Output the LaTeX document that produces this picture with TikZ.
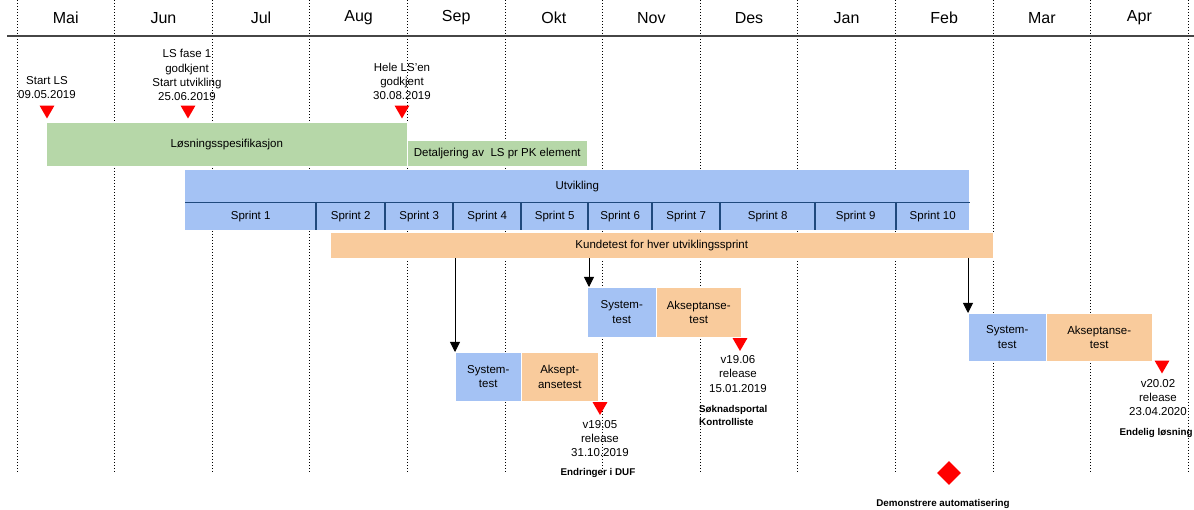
\documentclass[tikz,border=0pt]{standalone}
\usepackage{fontspec}
\setmainfont{Liberation Sans}
\usetikzlibrary{shapes.geometric,arrows.meta}

\definecolor{lsgreen}{RGB}{182,215,168}
\definecolor{devblue}{RGB}{164,194,244}
\definecolor{testorange}{RGB}{249,203,156}
\definecolor{sprintline}{RGB}{31,73,125}
\definecolor{headgray}{RGB}{70,70,70}

\begin{document}
\begin{tikzpicture}[x=1pt,y=-1pt,
  txt/.style={font=\fontsize{11.5}{14.2}\selectfont, align=center, inner sep=0pt},
  monthlbl/.style={font=\fontsize{16}{18}\selectfont, inner sep=0pt},
  notelbl/.style={font=\bfseries\fontsize{9.8}{13}\selectfont, inner sep=0pt},
  bar/.style={fill=#1, draw=white, line width=0.5pt, anchor=north west, inner sep=0pt,
    font=\fontsize{11.5}{14.5}\selectfont, align=center},
  sprintbox/.style={fill=devblue, anchor=north west, inner sep=0pt,
    font=\fontsize{11.5}{14.5}\selectfont, minimum height=28},
  gridline/.style={line width=0.9pt, dash pattern=on 0.9pt off 2.1pt},
  milestone/.style={regular polygon, regular polygon sides=3, shape border rotate=180,
    fill=red, inner sep=0pt, minimum size=17pt},
  flow/.style={-{Triangle[width=10pt,length=10pt]}, line width=0.9pt}]

\useasboundingbox (0,0) rectangle (1194,510);

% month grid
\foreach \i in {0,...,12} {
  \coordinate (gt\i) at (17+97.6*\i,0);
  \coordinate (gb\i) at (17+97.6*\i,472);
  \draw[gridline] (gt\i) -- (gb\i);
}
\foreach \m [count=\i from 0] in {Mai,Jun,Jul,Aug,Sep,Okt,Nov,Des,Jan,Feb,Mar,Apr}
  \node[monthlbl] (m\i) at (65.8+97.6*\i,18) {\m};
\coordinate (hl) at (7,36);
\coordinate (hr) at (1194,36);
\draw[headgray, line width=2pt] (hl) -- (hr);

% specification phase
\node[bar=lsgreen, minimum width=361, minimum height=44] (ls) at (46,122) {Løsningsspesifikasjon};
\node[bar=lsgreen, minimum width=180, minimum height=26] (det) at (407,140) {Detaljering av\ \ LS pr PK element};

% development with sprints
\node[bar=devblue, draw=none, minimum width=784, minimum height=32] (dev) at (185,170) {Utvikling};
\foreach \a/\b/\n in {185/316/1,316/385/2,385/453/3,453/521/4,521/588/5,588/652/6,652/720/7,720/815/8,815/896/9,896/969/10}
  \node[sprintbox, minimum width=\b-\a] (sp\n) at (\a,202) {Sprint \n};
\draw[sprintline, line width=1.3pt] (dev.south west) -- (dev.south east);
\foreach \n in {2,...,10}
  \draw[sprintline, line width=1.3pt] (sp\n.north west) -- (sp\n.south west);

% customer tests
\node[bar=testorange, minimum width=663, minimum height=26] (kt) at (330,232) {Kundetest for hver utviklingssprint};

% test blocks
\node[bar=devblue, minimum width=66, minimum height=49] (s1) at (455,352) {System-\\test};
\node[bar=testorange, minimum width=77, minimum height=49] (a1) at (521,352) {Aksept-\\ansetest};
\node[bar=devblue, minimum width=69, minimum height=50] (s2) at (587,287) {System-\\test};
\node[bar=testorange, minimum width=85, minimum height=50] (a2) at (656,287) {Akseptanse-\\test};
\node[bar=devblue, minimum width=78, minimum height=48] (s3) at (968,313) {System-\\test};
\node[bar=testorange, minimum width=106, minimum height=48] (a3) at (1046,313) {Akseptanse-\\test};

\draw[flow] (kt.south -| s1.north west) -- (s1.north west);
\draw[flow] ([xshift=2pt]kt.south -| s2.north west) -- ([xshift=2pt]s2.north west);
\draw[flow] (kt.south -| s3.north west) -- (s3.north west);

% milestones
\node[milestone] (t1) at (47,110) {};
\node[milestone] (t2) at (188,110) {};
\node[milestone] (t3) at (402,110) {};
\node[milestone] (t4) at (600,406.5) {};
\node[milestone] (t5) at (740,342.5) {};
\node[milestone] (t6) at (1162,365) {};

\node[txt] (l1) at (47,87.5) {Start LS\\09.05.2019};
\node[txt] (l2) at (187,75) {LS fase 1\\godkjent\\Start utvikling\\25.06.2019};
\node[txt] (l3) at (402,81.5) {Hele LS'en\\godkjent\\30.08.2019};
\node[txt] (l4) at (600,438.5) {v19.05\\release\\31.10.2019};
\node[txt] (l5) at (738,374) {v19.06\\release\\15.01.2019};
\node[txt] (l6) at (1158,397.5) {v20.02\\release\\23.04.2020};

\node[notelbl] (n4) at (598,473) {Endringer i DUF};
\node[notelbl, align=left, anchor=west] (n5) at (699,415) {Søknadsportal\\Kontrolliste};
\node[notelbl] (n6) at (1156,433) {Endelig løsning};

% demonstration
\node[diamond, fill=red, inner sep=0pt, minimum width=24, minimum height=24] (dm) at (949,473) {};
\node[notelbl] (dml) at (943,504) {Demonstrere automatisering};
\end{tikzpicture}
\end{document}
